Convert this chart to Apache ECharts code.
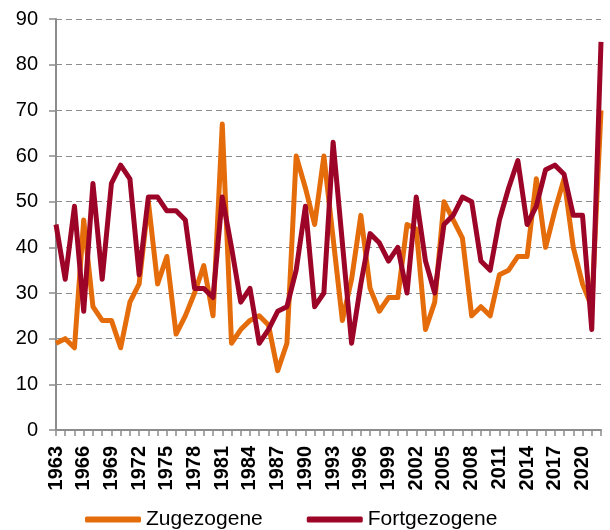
<!DOCTYPE html>
<html>
<head>
<meta charset="utf-8">
<script src="https://cdn.jsdelivr.net/npm/echarts@6/dist/echarts.min.js"></script>
<style>
html,body{margin:0;padding:0;background:#fff;}
#chart{width:610px;height:530px;}
</style>
</head>
<body>
<div id="chart"></div>
<script>
const years = [];
for (let y = 1963; y <= 2022; y++) years.push(String(y));

const zugezogene = [
  19, 20, 18, 46, 27, 24, 24, 18, 28, 32,
  50, 32, 38, 21, 25, 30, 36, 25, 67, 19,
  22, 24, 25, 23, 13, 19, 60, 53, 45, 60,
  42, 24, 33, 47, 31, 26, 29, 29, 45, 44,
  22, 28, 50, 46, 42, 25, 27, 25, 34, 35,
  38, 38, 55, 40, 48, 55, 40, 32, 27, 70
];
const fortgezogene = [
  45, 33, 49, 26, 54, 33, 54, 58, 55, 34,
  51, 51, 48, 48, 46, 31, 31, 29, 51, 40,
  28, 31, 19, 22, 26, 27, 35, 49, 27, 30,
  63, 41, 19, 32, 43, 41, 37, 40, 30, 51,
  37, 30, 45, 47, 51, 50, 37, 35, 46, 53,
  59, 45, 49, 57, 58, 56, 47, 47, 22, 85
];
const seriesNames = ['Zugezogene', 'Fortgezogene'];
const yTicks = { min: 0, max: 90, interval: 10 };

const axisGray = '#8c8c8c';
const chart = echarts.init(document.getElementById('chart'), null, { renderer: 'canvas' });
chart.setOption({
  animation: false,
  grid: { left: 56, right: 9, top: 19, bottom: 100, containLabel: false },
  legend: {
    left: 80, top: 504,
    itemWidth: 56, itemHeight: 6, itemGap: 44,
    icon: 'roundRect',
    textStyle: { fontFamily: 'Liberation Sans, Arial, sans-serif', fontSize: 21, color: '#000' },
    data: seriesNames
  },
  xAxis: {
    type: 'category',
    data: years,
    boundaryGap: false,
    axisLine: { lineStyle: { color: axisGray, width: 2 } },
    axisTick: { show: true, interval: 0, length: 6, lineStyle: { color: axisGray, width: 1.5 } },
    axisLabel: {
      interval: 2, rotate: 90, margin: 16,
      fontFamily: 'Liberation Sans, Arial, sans-serif', fontSize: 20, fontWeight: 'bold', color: '#000'
    },
    splitLine: { show: false }
  },
  yAxis: {
    type: 'value',
    min: yTicks.min, max: yTicks.max, interval: yTicks.interval,
    axisLine: { show: true, lineStyle: { color: axisGray, width: 2 } },
    axisTick: { show: true, length: 7, lineStyle: { color: axisGray, width: 1.5 } },
    axisLabel: { margin: 18, fontFamily: 'Liberation Sans, Arial, sans-serif', fontSize: 20, color: '#000' },
    splitLine: { show: true, lineStyle: { color: '#8c8c8c', width: 1, type: [6, 4] } }
  },
  series: [
    {
      name: seriesNames[0], type: 'line', data: zugezogene,
      showSymbol: false, symbol: 'none',
      lineStyle: { color: '#E46C0A', width: 5, join: 'round' },
      itemStyle: { color: '#E46C0A' }
    },
    {
      name: seriesNames[1], type: 'line', data: fortgezogene,
      showSymbol: false, symbol: 'none',
      lineStyle: { color: '#9C0527', width: 5, join: 'round' },
      itemStyle: { color: '#9C0527' }
    }
  ]
});
</script>
</body>
</html>
